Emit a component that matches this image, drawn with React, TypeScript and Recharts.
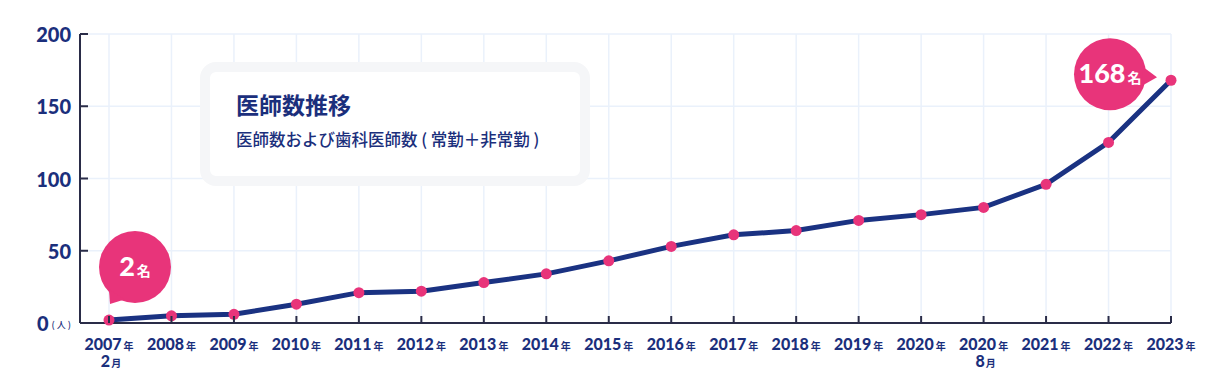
import React from "react";
import { LineChart, Line, XAxis, YAxis, CartesianGrid, LabelList } from "recharts";

const categories = [
  "2007/2", "2008", "2009", "2010", "2011", "2012", "2013", "2014", "2015",
  "2016", "2017", "2018", "2019", "2020", "2020/8", "2021", "2022", "2023",
];
const doctors = [2, 5, 6, 13, 21, 22, 28, 34, 43, 53, 61, 64, 71, 75, 80, 96, 125, 168];
const yTicks = [0, 50, 100, 150, 200];

const title = "医師数推移";
const subtitle = "医師数および歯科医師数 ( 常勤＋非常勤 )";

const data = categories.map((c, i) => ({ period: c, value: doctors[i] }));

const NAVY = "#1b2f7c";
const LINE = "#1a3282";
const PINK = "#e8347a";
const AXIS = "#2a2c48";
const GRID = "#eaf1fb";
const NUM_FONT = "Lato, 'Noto Sans CJK JP', sans-serif";
const JP_FONT = "'Noto Sans CJK JP', sans-serif";

function YTick(props: any) {
  const { x, y, payload } = props;
  const v = payload.value;
  return (
    <g>
      <line x1={x} x2={x + 8} y1={y} y2={y} stroke={AXIS} strokeWidth={2} />
      {v === 0 ? (
        <text x={x - 9} y={y} textAnchor="end" dominantBaseline="central" fill={NAVY}>
          <tspan fontFamily={NUM_FONT} fontWeight={900} fontSize={20}>0</tspan>
          <tspan fontFamily={JP_FONT} fontWeight={500} fontSize={9} dx={3} dy={1}>( 人 )</tspan>
        </text>
      ) : (
        <text
          x={x - 9}
          y={y}
          textAnchor="end"
          dominantBaseline="central"
          fill={NAVY}
          fontFamily={NUM_FONT}
          fontWeight={900}
          fontSize={20}
        >
          {v}
        </text>
      )}
    </g>
  );
}

function XTick(props: any) {
  const { x, y, payload } = props;
  const [yr, mo] = String(payload.value).split("/");
  return (
    <g>
      <line x1={x} x2={x} y1={y - 7} y2={y} stroke={AXIS} strokeWidth={2} />
      <text x={x} y={y + 27} textAnchor="middle" fill={NAVY}>
        <tspan fontFamily={NUM_FONT} fontWeight={900} fontSize={16}>{yr}</tspan>
        <tspan fontFamily={JP_FONT} fontWeight={700} fontSize={10} dx={2}>年</tspan>
      </text>
      {mo && (
        <text x={x + 2} y={y + 44} textAnchor="middle" fill={NAVY}>
          <tspan fontFamily={NUM_FONT} fontWeight={900} fontSize={16}>{mo}</tspan>
          <tspan fontFamily={JP_FONT} fontWeight={700} fontSize={10} dx={1}>月</tspan>
        </text>
      )}
    </g>
  );
}

function Bubble(props: any) {
  const { x, y, index, value } = props;
  const last = categories.length - 1;
  if (index !== 0 && index !== last) return null;
  const r = 36;
  const cx = index === 0 ? x + 26 : x - 61;
  const cy = index === 0 ? y - 53 : y - 6;
  const tx = index === 0 ? x + 1 : x - 14;
  const ty = index === 0 ? y - 16 : y - 3;
  const th = Math.atan2(ty - cy, tx - cx);
  const a1 = th - 0.28;
  const a2 = th + 0.28;
  const p1 = [cx + (r - 2) * Math.cos(a1), cy + (r - 2) * Math.sin(a1)];
  const p2 = [cx + (r - 2) * Math.cos(a2), cy + (r - 2) * Math.sin(a2)];
  return (
    <g>
      <circle cx={cx} cy={cy} r={r} fill={PINK} />
      <path d={`M${p1[0]},${p1[1]} L${tx},${ty} L${p2[0]},${p2[1]} Z`} fill={PINK} />
      <text x={cx} y={cy + 9} textAnchor="middle" fill="#fff">
        <tspan fontFamily={NUM_FONT} fontWeight={900} fontSize={27}>{value}</tspan>
        <tspan fontFamily={JP_FONT} fontWeight={700} fontSize={14} dx={2}>名</tspan>
      </text>
    </g>
  );
}

export default function App() {
  return (
    <div style={{ position: "fixed", left: 0, top: 0, width: 1220, height: 386, background: "#fff" }}>
      <LineChart width={1220} height={386} data={data} margin={{ top: 34, right: 49, bottom: 0, left: 0 }}>
        <CartesianGrid stroke={GRID} strokeWidth={1.5} />
        <XAxis
          dataKey="period"
          padding={{ left: 29, right: 0 }}
          height={63}
          tick={<XTick />}
          tickLine={false}
          tickSize={0}
          tickMargin={0}
          interval={0}
          axisLine={{ stroke: AXIS, strokeWidth: 2 }}
        />
        <YAxis
          domain={[0, 200]}
          ticks={yTicks}
          width={80}
          tick={<YTick />}
          tickLine={false}
          tickSize={0}
          tickMargin={0}
          axisLine={{ stroke: AXIS, strokeWidth: 2 }}
        />
        <Line
          type="linear"
          dataKey="value"
          stroke={LINE}
          strokeWidth={5}
          dot={{ r: 5.5, fill: PINK, stroke: "none" }}
          activeDot={false}
          isAnimationActive={false}
        >
          <LabelList dataKey="value" content={<Bubble />} />
        </Line>
      </LineChart>
      <div
        style={{
          position: "absolute",
          left: 200,
          top: 62,
          width: 370,
          height: 104,
          border: "10px solid #f5f6f8",
          borderRadius: 16,
          background: "#fff",
        }}
      >
        <div
          style={{
            position: "absolute",
            left: 26,
            top: 17,
            fontFamily: JP_FONT,
            fontWeight: 700,
            fontSize: 23,
            color: NAVY,
            lineHeight: "30px",
          }}
        >
          {title}
        </div>
        <div
          style={{
            position: "absolute",
            left: 26,
            top: 56,
            fontFamily: JP_FONT,
            fontWeight: 500,
            fontSize: 16.5,
            color: NAVY,
            lineHeight: "22px",
            whiteSpace: "nowrap",
          }}
        >
          {subtitle}
        </div>
      </div>
    </div>
  );
}
